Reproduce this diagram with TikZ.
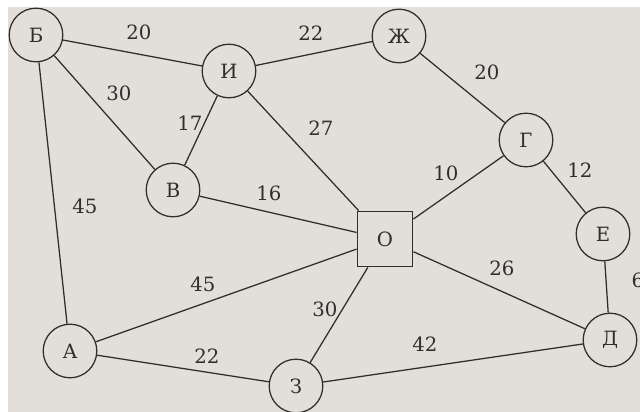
\documentclass[tikz,border=0pt]{standalone}
\usepackage{fontspec}
\setmainfont{DejaVu Serif}
\definecolor{paper}{RGB}{226,223,219}
\definecolor{ink}{RGB}{48,45,43}

\begin{document}
\begin{tikzpicture}[x=0.025cm,y=-0.025cm,line width=0.9pt,draw=ink,
    font=\fontsize{14}{16}\selectfont,
    state/.style={circle,draw=ink,fill=paper,text=ink,inner sep=0pt,minimum size=1.34cm},
    hub/.style={rectangle,draw=ink,fill=paper,text=ink,line width=1.2pt,inner sep=0pt,minimum size=1.38cm},
    wt/.style={text=ink,inner sep=0pt}]

  \useasboundingbox (0,0) rectangle (640,412);
  \fill[white] (0,0) rectangle (640,412);
  \fill[paper] (8,7) rectangle (640,412);

  \node[state] (b)  at (36,35)   {Б};
  \node[state] (i)  at (229,71)  {И};
  \node[state] (zh) at (399,36)  {Ж};
  \node[state] (g)  at (526,140) {Г};
  \node[state] (v)  at (173,190) {В};
  \node[hub]   (o)  at (385,239) {О};
  \node[state] (e)  at (603,234) {Е};
  \node[state] (d)  at (610,340) {Д};
  \node[state] (a)  at (70,351)  {А};
  \node[state] (z)  at (296,386) {З};

  \path (b)  edge (i) edge (v) edge (a);
  \path (i)  edge (zh) edge (v) edge (o);
  \path (zh) edge (g);
  \path (g)  edge (o) edge (e);
  \path (v)  edge (o);
  \path (o)  edge (a) edge (z) edge (d);
  \path (e)  edge (d);
  \path (a)  edge (z);
  \path (z)  edge (d);

  \node[wt] (wbi)  at (139,32)  {20};
  \node[wt] (wizh) at (311,33)  {22};
  \node[wt] (wbv)  at (119,93)  {30};
  \node[wt] (wiv)  at (190,123) {17};
  \node[wt] (wio)  at (321,128) {27};
  \node[wt] (wvo)  at (269,193) {16};
  \node[wt] (wba)  at (85,206)  {45};
  \node[wt] (wzhg) at (487,72)  {20};
  \node[wt] (wgo)  at (446,173) {10};
  \node[wt] (wge)  at (580,170) {12};
  \node[wt] (wao)  at (203,284) {45};
  \node[wt] (waz)  at (207,356) {22};
  \node[wt] (woz)  at (325,309) {30};
  \node[wt] (wod)  at (502,268) {26};
  \node[wt] (wzd)  at (425,344) {42};
  \node[wt] (wed)  at (638,280) {6};
\end{tikzpicture}
\end{document}
